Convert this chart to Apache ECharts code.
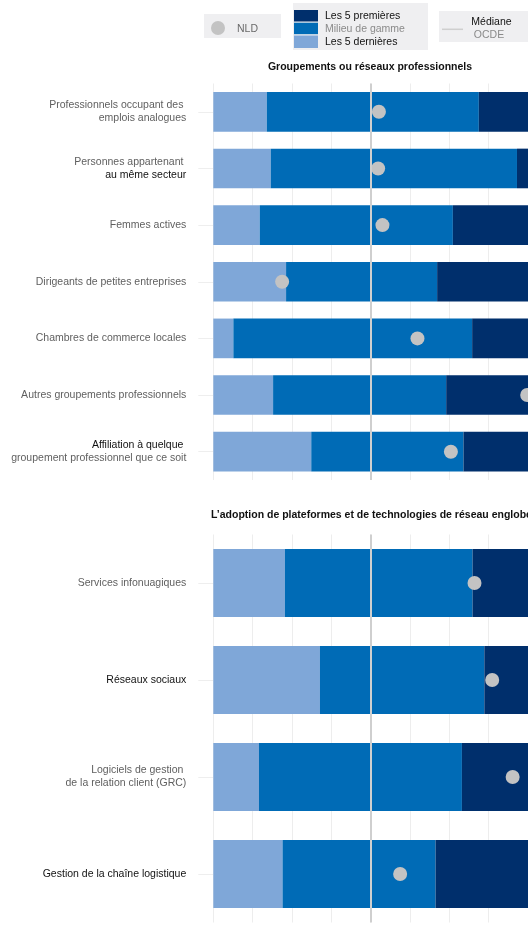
<!DOCTYPE html>
<html><head><meta charset="utf-8">
<script src="https://cdn.jsdelivr.net/npm/echarts@6/dist/echarts.min.js"></script>
<style>html,body{margin:0;padding:0;background:#fff}#c{width:528px;height:928px}</style>
</head><body><div id="c"></div><script>
// ---- data (x scale in its own units, grid every 10) ----
const catsA = [
  "Professionnels occupant des \nemplois analogues",
  "Personnes appartenant \nau même secteur",
  "Femmes actives",
  "Dirigeants de petites entreprises",
  "Chambres de commerce locales",
  "Autres groupements professionnels",
  "Affiliation à quelque \ngroupement professionnel que ce soit"
];
const lowA  = [13.6, 14.6, 11.8, 18.5, 5.1, 15.2, 24.9];   // end of "Les 5 dernières"
const highA = [67.5, 77.2, 60.9, 56.9, 65.8, 59.2, 63.6];  // end of "Milieu de gamme"
const nldA  = [42.1, 41.9, 43.0, 17.5, 51.9, 79.8, 60.4];

const catsB = [
  "Services infonuagiques",
  "Réseaux sociaux",
  "Logiciels de gestion \nde la relation client (GRC)",
  "Gestion de la chaîne logistique"
];
const lowB  = [18.2, 27.1, 11.6, 17.6];
const highB = [65.9, 68.9, 63.2, 56.5];
const nldB  = [66.4, 70.9, 76.1, 47.5];

const topValue = 100;      // "Les 5 premières" runs past the cropped right edge
const medianOECD = 40;
const axisMin = 0, axisMax = 80, axisStep = 10;

const titleA = "Groupements ou réseaux professionnels";
const titleB = "L’adoption de plateformes et de technologies de réseau englobe";

// lines drawn in black in the labels
const blackLines = ["au même secteur", "Affiliation à quelque ", "Réseaux sociaux", "Gestion de la chaîne logistique"];

// ---- styles ----
const FONT = "'Liberation Sans',Arial,sans-serif";
const FS = 10.5;
const C_LIGHT = "#7FA7D8", C_MID = "#006BB6", C_DARK = "#002F6C", C_DOT = "#C3C3C3";

function labelFmt(v) {
  return v.split("\n").map(l => (blackLines.includes(l) ? "{b|" : "{g|") + l + "}").join("\n");
}

function buildSeries(idx, low, high, nld, cats) {
  return [
    { type: "bar", xAxisIndex: idx, yAxisIndex: idx, stack: "s" + idx, barWidth: "70%",
      itemStyle: { color: C_LIGHT }, silent: true, data: low },
    { type: "bar", xAxisIndex: idx, yAxisIndex: idx, stack: "s" + idx, barWidth: "70%",
      itemStyle: { color: C_MID }, silent: true, data: high.map((h, i) => h - low[i]) },
    { type: "bar", xAxisIndex: idx, yAxisIndex: idx, stack: "s" + idx, barWidth: "70%",
      itemStyle: { color: C_DARK }, silent: true, data: high.map(h => topValue - h) },
    { type: "scatter", xAxisIndex: idx, yAxisIndex: idx, z: 3, silent: true, data: [],
      markLine: { silent: true, symbol: "none", label: { show: false },
        lineStyle: { color: "#CFCFCF", width: 2, type: "solid" },
        data: [{ xAxis: medianOECD }] } },
    { type: "scatter", xAxisIndex: idx, yAxisIndex: idx, z: 4, silent: true,
      symbolSize: 14, itemStyle: { color: C_DOT, opacity: 1 },
      data: nld.map((v, i) => [v, cats[i]]) }
  ];
}

function xAxisCfg(idx) {
  return { type: "value", gridIndex: idx, min: axisMin, max: axisMax, interval: axisStep,
    axisLabel: { show: false }, axisLine: { show: false }, axisTick: { show: false },
    splitLine: { show: true, lineStyle: { color: "#EDEDED", width: 1 } } };
}
function yAxisCfg(idx, cats) {
  return { type: "category", gridIndex: idx, data: cats, inverse: true,
    axisLine: { show: false },
    axisTick: { show: true, alignWithLabel: true, length: 15, lineStyle: { color: "#EEEEEE" } },
    axisLabel: { margin: 27, align: "right", formatter: labelFmt, lineHeight: 13,
      rich: { g: { color: "#5F5F5F", fontSize: FS, fontFamily: FONT, lineHeight: 13 },
              b: { color: "#111111", fontSize: FS, fontFamily: FONT, lineHeight: 13 } } },
    splitLine: { show: false } };
}

const chart = echarts.init(document.getElementById("c"), null, { renderer: "canvas" });
chart.setOption({
  animation: false,
  backgroundColor: "#fff",
  grid: [
    { left: 213.3, right: 0, top: 83.5, height: 396.5, containLabel: false, outerBoundsMode: "none" },
    { left: 213.3, right: 0, top: 534.5, height: 388, containLabel: false, outerBoundsMode: "none" }
  ],
  xAxis: [xAxisCfg(0), xAxisCfg(1)],
  yAxis: [yAxisCfg(0, catsA), yAxisCfg(1, catsB)],
  series: [].concat(buildSeries(0, lowA, highA, nldA, catsA), buildSeries(1, lowB, highB, nldB, catsB)),
  graphic: [
    // titles
    { type: "text", silent: true, x: 370, y: 67,
      style: { text: titleA, align: "center", verticalAlign: "middle",
        font: "bold " + FS + "px " + FONT, fill: "#111" } },
    { type: "text", silent: true, x: 211, y: 515,
      style: { text: titleB, align: "left", verticalAlign: "middle", font: "bold " + FS + "px " + FONT, fill: "#111" } },
    // legend box 1
    { type: "rect", silent: true, shape: { x: 204, y: 14, width: 77, height: 24 }, style: { fill: "#EFEFF1" } },
    { type: "circle", silent: true, shape: { cx: 218, cy: 28, r: 7 }, style: { fill: C_DOT } },
    { type: "text", silent: true, x: 237, y: 29,
      style: { text: "NLD", verticalAlign: "middle", font: FS + "px " + FONT, fill: "#6A6A6A" } },
    // legend box 2
    { type: "rect", silent: true, shape: { x: 293, y: 3, width: 135, height: 47 }, style: { fill: "#EFEFF1" } },
    { type: "rect", silent: true, shape: { x: 294, y: 10, width: 24, height: 11.5 }, style: { fill: C_DARK } },
    { type: "rect", silent: true, shape: { x: 294, y: 22.7, width: 24, height: 11.5 }, style: { fill: C_MID } },
    { type: "rect", silent: true, shape: { x: 294, y: 35.5, width: 24, height: 12.5 }, style: { fill: C_LIGHT } },
    { type: "text", silent: true, x: 325, y: 16,
      style: { text: "Les 5 premières", verticalAlign: "middle", font: FS + "px " + FONT, fill: "#111" } },
    { type: "text", silent: true, x: 325, y: 29.5,
      style: { text: "Milieu de gamme", verticalAlign: "middle", font: FS + "px " + FONT, fill: "#8A8A8A" } },
    { type: "text", silent: true, x: 325, y: 42.5,
      style: { text: "Les 5 dernières", verticalAlign: "middle", font: FS + "px " + FONT, fill: "#111" } },
    // legend box 3
    { type: "rect", silent: true, shape: { x: 439, y: 11, width: 95, height: 31 }, style: { fill: "#EFEFF1" } },
    { type: "line", silent: true, shape: { x1: 442, y1: 29.3, x2: 463, y2: 29.3 }, style: { stroke: "#CFCFCF", lineWidth: 1.5 } },
    { type: "text", silent: true, x: 491.5, y: 22.5,
      style: { text: "Médiane", align: "center", verticalAlign: "middle", font: FS + "px " + FONT, fill: "#111" } },
    { type: "text", silent: true, x: 489, y: 35,
      style: { text: "OCDE", align: "center", verticalAlign: "middle", font: FS + "px " + FONT, fill: "#8A8A8A" } }
  ]
});
</script></body></html>
